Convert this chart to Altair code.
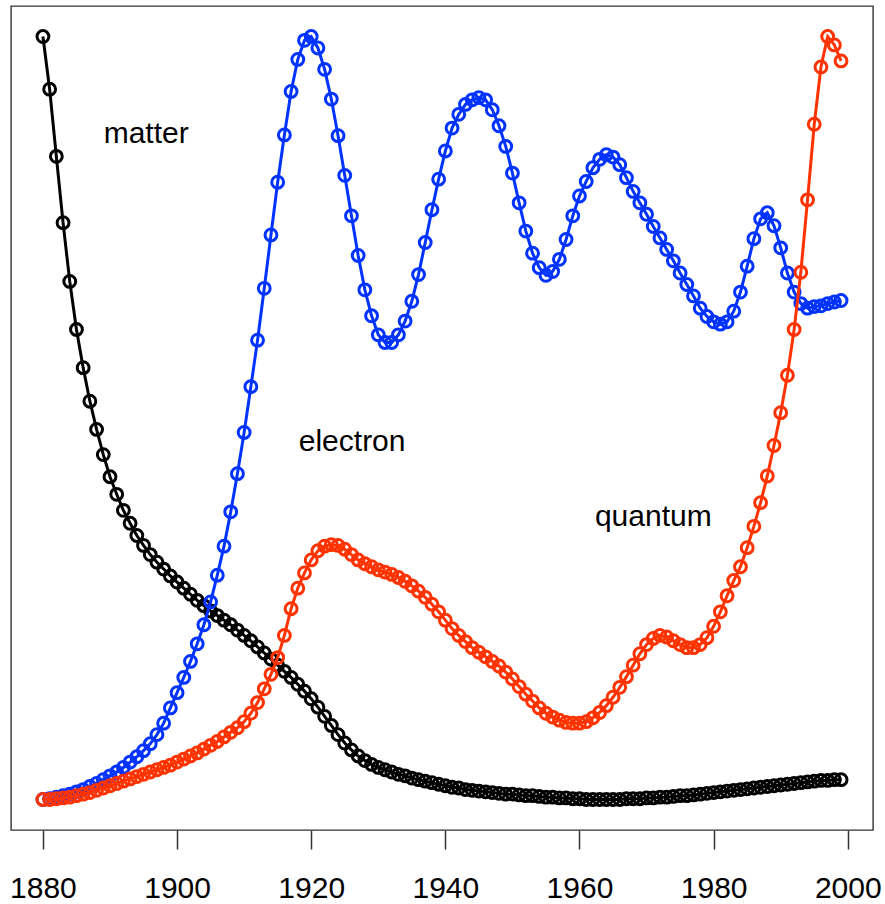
import altair as alt
import pandas as pd

years = list(range(1880, 2000))

matter = [
    1.000, 0.931, 0.843, 0.756, 0.679, 0.616, 0.566, 0.522, 0.485, 0.452,
    0.423, 0.400, 0.379, 0.362, 0.346, 0.333, 0.321, 0.311, 0.302, 0.293,
    0.285, 0.277, 0.269, 0.261, 0.254, 0.247, 0.241, 0.235, 0.229, 0.222,
    0.215, 0.208, 0.200, 0.192, 0.184, 0.176, 0.168, 0.160, 0.151, 0.142,
    0.132, 0.121, 0.109, 0.097, 0.085, 0.074, 0.065, 0.057, 0.051, 0.046,
    0.042, 0.039, 0.036, 0.033, 0.031, 0.028, 0.026, 0.024, 0.022, 0.020,
    0.018, 0.016, 0.015, 0.013, 0.012, 0.011, 0.010, 0.009, 0.008, 0.007,
    0.007, 0.006, 0.005, 0.005, 0.004, 0.003, 0.003, 0.002, 0.002, 0.001,
    0.001, 0.000, 0.000, 0.000, 0.000, 0.000, 0.000, 0.001, 0.001, 0.001,
    0.002, 0.002, 0.003, 0.003, 0.004, 0.005, 0.005, 0.006, 0.007, 0.008,
    0.009, 0.010, 0.011, 0.012, 0.013, 0.014, 0.015, 0.016, 0.017, 0.018,
    0.019, 0.020, 0.021, 0.022, 0.023, 0.024, 0.025, 0.025, 0.026, 0.026,
]

electron = [
    0.000, 0.001, 0.003, 0.005, 0.007, 0.010, 0.013, 0.017, 0.021, 0.026,
    0.031, 0.036, 0.042, 0.049, 0.056, 0.064, 0.073, 0.085, 0.100, 0.120,
    0.140, 0.160, 0.181, 0.204, 0.229, 0.259, 0.294, 0.332, 0.377, 0.427,
    0.481, 0.541, 0.602, 0.670, 0.740, 0.809, 0.871, 0.928, 0.970, 0.995,
    1.000, 0.985, 0.957, 0.918, 0.870, 0.818, 0.765, 0.713, 0.668, 0.634,
    0.609, 0.599, 0.599, 0.609, 0.627, 0.653, 0.688, 0.730, 0.773, 0.813,
    0.850, 0.880, 0.898, 0.911, 0.917, 0.920, 0.917, 0.904, 0.883, 0.856,
    0.821, 0.782, 0.745, 0.716, 0.697, 0.687, 0.692, 0.708, 0.734, 0.765,
    0.791, 0.810, 0.828, 0.839, 0.845, 0.842, 0.832, 0.815, 0.797, 0.782,
    0.767, 0.751, 0.736, 0.721, 0.706, 0.690, 0.675, 0.660, 0.644, 0.633,
    0.626, 0.623, 0.626, 0.640, 0.665, 0.699, 0.735, 0.761, 0.769, 0.752,
    0.723, 0.690, 0.665, 0.650, 0.644, 0.646, 0.647, 0.650, 0.652, 0.654,
]

quantum = [
    0.000, 0.000, 0.001, 0.002, 0.003, 0.005, 0.007, 0.009, 0.012, 0.015,
    0.018, 0.021, 0.024, 0.027, 0.030, 0.033, 0.036, 0.039, 0.042, 0.045,
    0.049, 0.053, 0.057, 0.061, 0.066, 0.071, 0.076, 0.082, 0.088, 0.094,
    0.102, 0.113, 0.127, 0.145, 0.164, 0.186, 0.215, 0.250, 0.277, 0.297,
    0.314, 0.326, 0.332, 0.334, 0.333, 0.328, 0.321, 0.314, 0.309, 0.305,
    0.301, 0.298, 0.295, 0.291, 0.286, 0.280, 0.273, 0.265, 0.256, 0.246,
    0.235, 0.224, 0.215, 0.207, 0.199, 0.193, 0.187, 0.181, 0.175, 0.167,
    0.158, 0.148, 0.138, 0.129, 0.120, 0.113, 0.108, 0.104, 0.101, 0.100,
    0.100, 0.102, 0.107, 0.114, 0.123, 0.134, 0.147, 0.161, 0.176, 0.191,
    0.203, 0.211, 0.215, 0.213, 0.208, 0.203, 0.199, 0.199, 0.203, 0.212,
    0.227, 0.246, 0.267, 0.287, 0.305, 0.330, 0.358, 0.389, 0.424, 0.464,
    0.507, 0.556, 0.616, 0.691, 0.786, 0.885, 0.960, 1.000, 0.989, 0.968,
]

label_text = ["matter", "electron", "quantum"]
label_year = [1895.4, 1926.1, 1971.0]
label_value = [0.872, 0.469, 0.370]

tick_years = [1880, 1900, 1920, 1940, 1960, 1980, 2000]

colors = {"matter": "#000000", "electron": "#0033ff", "quantum": "#ff3300"}

x_scale = alt.Scale(domain=[1875.24, 2003.76], nice=False, zero=False)
y_scale = alt.Scale(domain=[-0.04, 1.04], nice=False, zero=False)

x_axis = alt.Axis(
    values=tick_years, format="d", title=None, grid=False, domain=False,
    tickSize=19, tickColor="#333333", tickWidth=1.5,
    labelFontSize=30, labelFont="Liberation Sans", labelColor="#000000",
    labelPadding=24, labelFlush=False, labelOverlap=False,
)


def xenc():
    return alt.X("year:Q", scale=x_scale, axis=x_axis)


def yenc():
    return alt.Y("value:Q", scale=y_scale, axis=None)


def series_layers(name, vals):
    df = pd.DataFrame({"year": years, "value": vals})
    base = alt.Chart(df)
    line = base.mark_line(color=colors[name], strokeWidth=3).encode(x=xenc(), y=yenc())
    pts = base.mark_point(
        shape="circle", filled=False, color=colors[name], size=140, strokeWidth=3, opacity=1
    ).encode(x=xenc(), y=yenc())
    return [line, pts]


layers = []
layers += series_layers("matter", matter)
layers += series_layers("electron", electron)
layers += series_layers("quantum", quantum)

labels_df = pd.DataFrame({"text": label_text, "year": label_year, "value": label_value})
labels = alt.Chart(labels_df).mark_text(
    font="Liberation Sans", fontSize=30, color="#000000", align="center", baseline="middle"
).encode(
    x=xenc(),
    y=yenc(),
    text="text:N",
)
layers.append(labels)

chart = alt.layer(*layers).properties(
    width=862,
    height=824,
    autosize=alt.AutoSizeParams(type="none"),
    padding={"left": 11, "top": 6, "right": 12, "bottom": 74},
    background="#ffffff",
).configure_view(
    stroke="#333333", strokeWidth=1.4
)

chart.save("out.html", embed_options={"renderer": "svg", "actions": False})
